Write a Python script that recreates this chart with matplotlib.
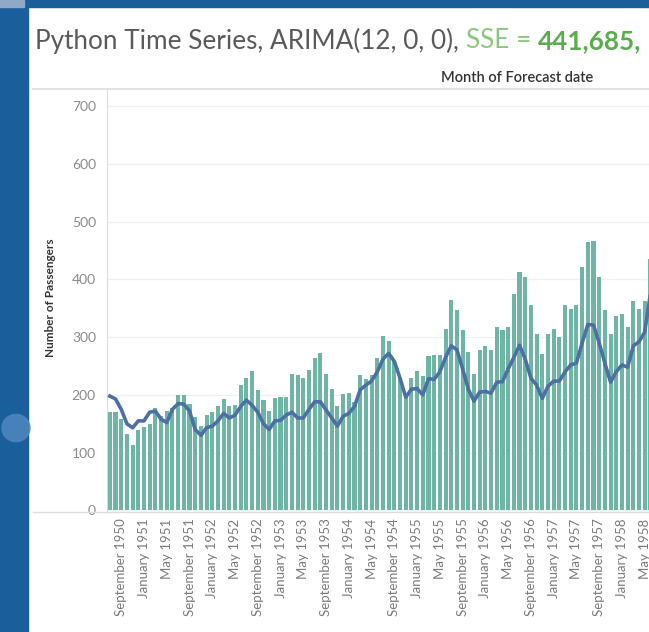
import numpy as np
import matplotlib
matplotlib.use("Agg")
import matplotlib.pyplot as plt
from matplotlib.patches import Rectangle, Circle
from matplotlib.lines import Line2D

# ── Data: monthly passengers, July 1950 .. June 1958
passengers = [
    170, 170, 158, 133, 114, 140,
    145, 150, 178, 163, 172, 178, 199, 199, 184, 162, 146, 166,
    171, 180, 193, 181, 183, 218, 230, 242, 209, 191, 172, 194,
    196, 196, 236, 235, 229, 243, 264, 272, 237, 211, 180, 201,
    204, 188, 235, 227, 234, 264, 302, 293, 259, 229, 203, 229,
    242, 233, 267, 269, 270, 315, 364, 347, 312, 274, 237, 278,
    284, 277, 317, 313, 318, 374, 413, 405, 355, 306, 271, 306,
    315, 301, 356, 348, 355, 422, 465, 467, 404, 347, 305, 336,
    340, 318, 362, 348, 363, 435,
]

# ARIMA(12,0,0) forecast
forecast = [
    198, 193, 175, 150, 143, 155, 155, 170, 172, 158, 152, 175,
    185, 184, 172, 140, 130, 143, 146, 155, 168, 160, 165, 180,
    191, 182, 170, 150, 140, 155, 156, 165, 170, 160, 160, 175,
    188, 188, 174, 160, 146, 163, 168, 180, 209, 217, 224, 240,
    262, 272, 258, 229, 196, 210, 211, 200, 228, 227, 240, 265,
    285, 278, 245, 210, 189, 205, 206, 203, 222, 223, 245, 265,
    286, 262, 229, 217, 194, 215, 224, 224, 240, 252, 255, 290,
    322, 321, 290, 255, 222, 240, 252, 248, 285, 292, 309, 375,
]

tick_pos = list(range(2, 96, 4))
tick_labels = []
months = ["September", "January", "May"]
for k, p in enumerate(tick_pos):
    year = 1950 + (p + 6) // 12
    tick_labels.append(f"{months[k % 3]} {year}")

y_ticks = [0, 100, 200, 300, 400, 500, 600, 700]

W, H = 649, 632
fig = plt.figure(figsize=(W / 100, H / 100), dpi=100)
fig.patch.set_facecolor("white")
plt.rcParams["font.family"] = ["Lato", "DejaVu Sans"]


def fx(px):
    return px / W


def fy(py):
    return 1 - py / H


# ── Dashboard frame (blue strips)
blue = "#1b5e9c"
fig.add_artist(Rectangle((0, 0), fx(28), 1, transform=fig.transFigure,
                         color=blue, zorder=0))
fig.add_artist(Rectangle((0, fy(7)), 1, 7 / H, transform=fig.transFigure,
                         color=blue, zorder=0))
fig.add_artist(Rectangle((0, fy(7)), fx(24), 7 / H, transform=fig.transFigure,
                         color="#8fa9c6", zorder=1))
fig.add_artist(Circle((fx(16), fy(428)), 14 / W, transform=fig.transFigure,
                      color="#4f88c0", alpha=0.85, zorder=1))

# ── Axes (extends beyond right edge, like the cropped screenshot)
px_per_month = 5.69
ax_left, ax_top, ax_bottom = 107, 89, 511.5
ax = fig.add_axes([fx(ax_left), fy(ax_bottom),
                   97 * px_per_month / W, (ax_bottom - ax_top) / H])
x = np.arange(len(passengers))
ax.bar(x, passengers, width=0.72, color="#6fb5a5", zorder=2)
ax.plot(x, forecast, color="#4c6fa6", lw=2.6, zorder=3,
        solid_joinstyle="round")

ax.set_xlim(-0.5, 96.5)
ax.set_ylim(-2, 730)
ax.set_yticks(y_ticks)
ax.set_yticklabels([str(v) for v in y_ticks], color="#8a8a8a", fontsize=10)
ax.set_xticks(tick_pos)
ax.set_xticklabels(tick_labels, rotation=90, color="#7a7a7a", fontsize=9.5,
                   va="top")
ax.tick_params(axis="y", length=0, pad=8)
ax.tick_params(axis="x", length=0, pad=5)
ax.grid(axis="y", color="#f0f0f0", lw=1, zorder=0)
for s in ax.spines.values():
    s.set_visible(False)
ax.spines["left"].set_visible(True)
ax.spines["left"].set_color("#dcdcdc")

# horizontal rules of the header and bottom
fig.add_artist(Line2D([fx(33), 1], [fy(89), fy(89)], color="#e2e2e2", lw=1.5))
fig.add_artist(Line2D([fx(33), 1], [fy(511.5), fy(511.5)], color="#dcdcdc", lw=1))

# ── Texts
fig.text(fx(50), fy(298), "Number of Passengers", rotation=90, ha="center",
         va="center", fontsize=8.5, color="#333333", fontweight="bold")
fig.text(fx(517), fy(78), "Month of Forecast date", ha="center", va="center",
         fontsize=10.5, color="#333333", fontweight="semibold")

renderer = fig.canvas.get_renderer()
pieces = [("Python Time Series, ARIMA(12, 0, 0), ", "#5a5a5a", "normal"),
          ("SSE = ", "#8cc77e", "normal"),
          ("441,685,", "#5aad4e", "bold")]
cur = fx(35)
for txt, col, wt in pieces:
    t = fig.text(cur, fy(41), txt, ha="left", va="center", fontsize=18.8,
                 color=col, fontweight=wt)
    bb = t.get_window_extent(renderer=renderer)
    cur = bb.x1 / fig.bbox.width

fig.savefig("out.png", dpi=100)
